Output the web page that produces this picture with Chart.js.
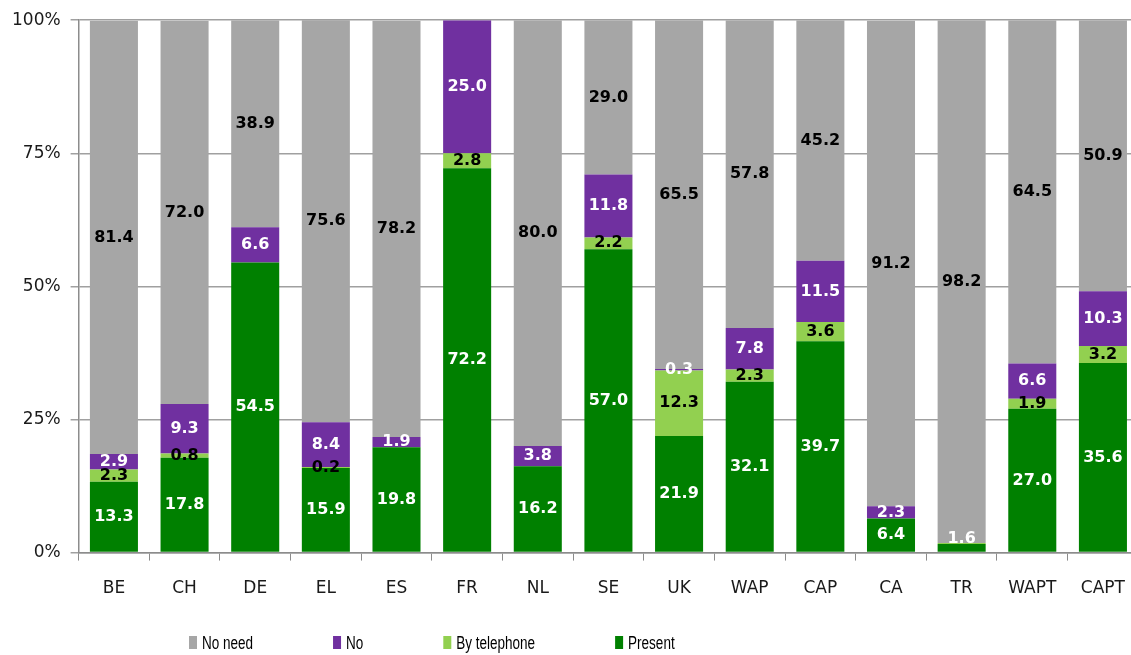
<!DOCTYPE html>
<html>
<head>
<meta charset="utf-8">
<script src="https://cdn.jsdelivr.net/npm/chart.js@4/dist/chart.umd.min.js"></script>
<style>
  html, body { margin: 0; padding: 0; background: #fff; overflow: hidden; }
  #wrap { width: 1143px; height: 655px; }
</style>
</head>
<body>
<div id="wrap"><canvas id="chart"></canvas></div>
<script>
// shares per country / group, in percent
const categories = ['BE', 'CH', 'DE', 'EL', 'ES', 'FR', 'NL', 'SE', 'UK', 'WAP', 'CAP', 'CA', 'TR', 'WAPT', 'CAPT'];
const present     = [13.3, 17.8, 54.5, 15.9, 19.8, 72.2, 16.2, 57.0, 21.9, 32.1, 39.7, 6.4, 1.6, 27.0, 35.6];
const byTelephone = [2.3, 0.8, 0, 0.2, 0, 2.8, 0, 2.2, 12.3, 2.3, 3.6, 0, 0.2, 1.9, 3.2];
const no          = [2.9, 9.3, 6.6, 8.4, 1.9, 25.0, 3.8, 11.8, 0.3, 7.8, 11.5, 2.3, 0, 6.6, 10.3];
const noNeed      = [81.4, 72.0, 38.9, 75.6, 78.2, 0, 80.0, 29.0, 65.5, 57.8, 45.2, 91.2, 98.2, 64.5, 50.9];
const yTicks      = [0, 25, 50, 75, 100];

const series = [
  { label: 'Present',      data: present,     color: '#008000', text: '#ffffff' },
  { label: 'By telephone', data: byTelephone, color: '#92d050', text: '#000000' },
  { label: 'No',           data: no,          color: '#7030a0', text: '#ffffff' },
  { label: 'No need',      data: noNeed,      color: '#a6a6a6', text: '#000000' }
];

const axisColor = '#8c8c8c';

// value labels in the middle of each segment; labels pushed against the
// axis that would land on top of one already drawn in that bar are skipped
const segmentLabels = {
  id: 'segmentLabels',
  afterDatasetsDraw(chart) {
    const ctx = chart.ctx;
    const bottom = chart.chartArea.bottom;
    const used = {};
    ctx.save();
    ctx.font = 'bold 16px "DejaVu Sans", sans-serif';
    ctx.textAlign = 'center';
    ctx.textBaseline = 'middle';
    chart.data.datasets.forEach((ds, i) => {
      const meta = chart.getDatasetMeta(i);
      meta.data.forEach((bar, j) => {
        const v = ds.data[j];
        if (!v) return;
        const p = bar.getCenterPoint();
        const y = Math.min(p.y, bottom - 14);
        if (used[j] !== undefined && Math.abs(used[j] - y) < 4) return;
        used[j] = y;
        ctx.fillStyle = series[i].text;
        ctx.fillText(v.toFixed(1), p.x, y);
      });
    });
    ctx.restore();
  }
};

// legend row under the axis, listed from top segment down
const bottomLegend = {
  id: 'bottomLegend',
  afterDraw(chart) {
    const ctx = chart.ctx;
    const squeeze = 0.75;
    ctx.save();
    ctx.font = '18px "Liberation Sans", sans-serif';
    ctx.textBaseline = 'middle';
    let x = 189;
    const y = 643;
    series.slice().reverse().forEach(s => {
      ctx.fillStyle = s.color;
      ctx.fillRect(x, y - 7, 8, 13);
      const w = ctx.measureText(s.label).width * squeeze;
      ctx.save();
      ctx.translate(x + 13, y + 1);
      ctx.scale(squeeze, 1);
      ctx.fillStyle = '#000';
      ctx.fillText(s.label, 0, 0);
      ctx.restore();
      x += 13 + w + 80;
    });
    ctx.restore();
  }
};

new Chart(document.getElementById('chart'), {
  type: 'bar',
  data: {
    labels: categories,
    datasets: series.map(s => ({
      label: s.label,
      data: s.data,
      backgroundColor: s.color,
      borderWidth: 0,
      categoryPercentage: 0.68,
      barPercentage: 1.0
    }))
  },
  options: {
    responsive: true,
    maintainAspectRatio: false,
    animation: false,
    layout: { padding: { left: 2, right: 0, top: 19, bottom: 38 } },
    plugins: {
      legend: { display: false },
      tooltip: { enabled: false }
    },
    scales: {
      x: {
        stacked: true,
        grid: {
          display: true,
          drawOnChartArea: false,
          drawTicks: true,
          tickLength: 8,
          color: axisColor,
          offset: true
        },
        border: { display: true, color: axisColor, width: 1.5 },
        ticks: {
          color: '#1a1a1a',
          padding: 18,
          font: { family: '"DejaVu Sans", sans-serif', size: 17 }
        }
      },
      y: {
        stacked: true,
        min: 0,
        max: 100,
        afterBuildTicks: axis => { axis.ticks = yTicks.map(v => ({ value: v })); },
        grid: {
          color: '#a0a0a0',
          lineWidth: 1.5,
          drawTicks: true,
          tickLength: 8
        },
        border: { display: true, color: axisColor, width: 1.5 },
        ticks: {
          color: '#1a1a1a',
          padding: 10,
          font: { family: '"DejaVu Sans", sans-serif', size: 17 },
          callback: v => v + '%'
        }
      }
    }
  },
  plugins: [segmentLabels, bottomLegend]
});
</script>
</body>
</html>
